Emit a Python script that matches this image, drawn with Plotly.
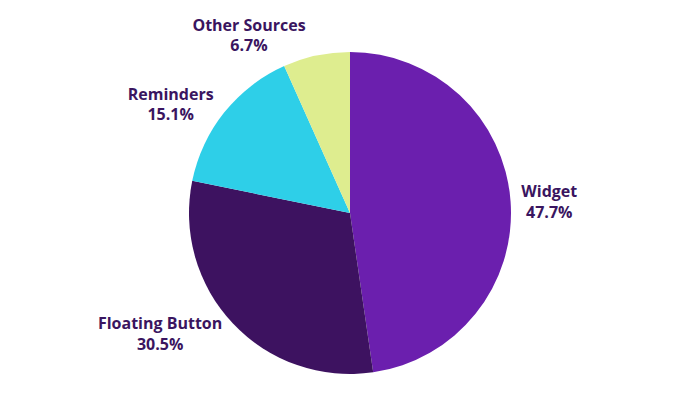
import plotly.graph_objects as go

labels = ["Widget", "Floating Button", "Reminders", "Other Sources"]
values = [47.7, 30.5, 15.1, 6.7]
colors = ["#6b1fae", "#3d1260", "#2ecfe8", "#deed8f"]

fig = go.Figure(go.Pie(
    labels=labels,
    values=values,
    sort=False,
    direction="clockwise",
    rotation=0,
    marker=dict(colors=colors, line=dict(width=0)),
    textposition="outside",
    texttemplate="<b>%{label}</b><br><b>%{percent:.1%}</b>",
    textfont=dict(family="Open Sans, sans-serif", size=16, color="#3a1560"),
    showlegend=False,
    hoverinfo="label+percent",
    automargin=False,
    domain=dict(x=[0.0, 1.0], y=[0.0, 1.0]),
))

fig.update_layout(
    width=700, height=400,
    autosize=False,
    margin=dict(l=0, r=0, t=52, b=26, autoexpand=False),
    paper_bgcolor="white",
    plot_bgcolor="white",
)

fig.write_html("out.html")
